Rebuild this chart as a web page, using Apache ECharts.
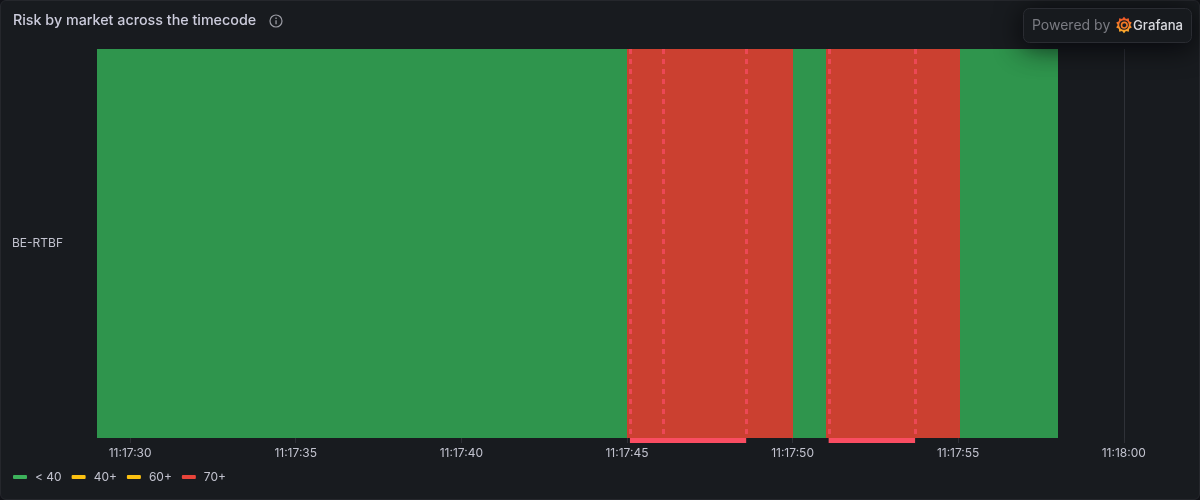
<!DOCTYPE html>
<html><head><meta charset="utf-8">
<style>
html,body{margin:0;padding:0;width:1200px;height:500px;overflow:hidden;background:#111217}
#panel{position:absolute;left:0;top:0;width:1198px;height:498px;background:#181b1f;border:1px solid #25272c;border-radius:6px}
#chart{position:absolute;left:0;top:0;width:1200px;height:500px}
</style>
<script src="https://cdn.jsdelivr.net/npm/echarts@6/dist/echarts.min.js"></script>
</head><body><div id="panel"></div><div id="chart"></div>
<script>
const titleText = 'Risk by market across the timecode';
const markets = ['BE-RTBF'];
const stateNames = ['< 40', '40+', '60+', '70+'];
const legendColors = ['#3cb25b', '#fbc111', '#fbc111', '#e8443a'];
const fillColors = ['#2f954d', '#e0ad12', '#e0ad12', '#cb4030'];
const segmentStarts = ['11:17:29', '11:17:45', '11:17:50', '11:17:51', '11:17:55.05'];
const segmentEnds   = ['11:17:45', '11:17:50', '11:17:51', '11:17:55.05', '11:17:58'];
const segmentStates = [0, 3, 0, 3, 0];
const regionStarts = ['11:17:45.09', '11:17:51.09'];
const regionEnds   = ['11:17:48.6', '11:17:53.7'];
const pointNotes   = ['11:17:46.1'];
const tickTimes = ['11:17:30', '11:17:35', '11:17:40', '11:17:45', '11:17:50', '11:17:55', '11:18:00'];
const axisMin = '11:17:29';
const axisMax = '11:18:02';

const FONT = 'Inter, "Noto Sans", sans-serif';
const ms = s => new Date('2024-01-01T' + s).getTime();
const tickValues = tickTimes.map(ms);

const stateSeries = stateNames.map((name, st) => ({
  name, type: 'custom', z: 2,
  itemStyle: { color: legendColors[st] },
  encode: { x: [0, 1], y: 2 },
  data: segmentStates.map((v, i) => v === st ? [ms(segmentStarts[i]), ms(segmentEnds[i]), 0] : null).filter(Boolean),
  renderItem(params, api) {
    const a = api.coord([api.value(0), api.value(2)]);
    const b = api.coord([api.value(1), api.value(2)]);
    const h = api.size([0, 1])[1];
    const x0 = Math.round(a[0]), x1 = Math.round(b[0]);
    return { type: 'rect', shape: { x: x0, y: a[1] - h / 2, width: x1 - x0, height: h }, style: { fill: fillColors[st] } };
  }
}));

const noteColor = '#f2495c';
const noteTimes = [...regionStarts, ...regionEnds, ...pointNotes];
const noteLines = {
  type: 'custom', z: 5, silent: true, clip: false, encode: { x: 0 },
  data: noteTimes.map(t => [ms(t)]),
  renderItem(params, api) {
    const x = Math.round(api.coord([api.value(0), 0])[0]) + 0.5;
    const g = params.coordSys;
    return { type: 'line', shape: { x1: x, y1: g.y, x2: x, y2: g.y + g.height },
      style: { stroke: noteColor, lineWidth: 3, lineDash: [5, 5], opacity: 0.85 } };
  }
};
const noteBars = {
  type: 'custom', z: 6, silent: true, clip: false, encode: { x: [0, 1] },
  data: regionStarts.map((t, i) => [ms(t), ms(regionEnds[i])]),
  renderItem(params, api) {
    const a = api.coord([api.value(0), 0])[0];
    const b = api.coord([api.value(1), 0])[0];
    const g = params.coordSys;
    return { type: 'rect', shape: { x: a, y: g.y + g.height, width: b - a, height: 5 },
      style: { fill: '#fa4d62' } };
  }
};

function star(cx, cy, r1, r2, n) {
  const p = [];
  for (let i = 0; i < n * 2; i++) {
    const r = i % 2 ? r2 : r1, t = Math.PI * i / n;
    p.push([cx + r * Math.sin(t), cy - r * Math.cos(t)]);
  }
  return p;
}

const chart = echarts.init(document.getElementById('chart'), null, { renderer: 'canvas' });
chart.setOption({
  animation: false,
  backgroundColor: 'transparent',
  textStyle: { fontFamily: FONT },
  title: { text: titleText, left: 13, top: 14, padding: 0,
    textStyle: { color: '#ccccdc', fontSize: 14.3, fontWeight: 500, fontFamily: FONT } },
  grid: { left: 97, right: 10, top: 49, bottom: 62 },
  legend: {
    left: 13, top: 471, padding: 0, itemWidth: 14, itemHeight: 4, itemGap: 10,
    icon: 'roundRect', data: stateNames, selectedMode: false,
    textStyle: { color: '#c2c3cf', fontSize: 12, fontFamily: FONT, padding: [0, 0, 0, 3] }
  },
  xAxis: {
    type: 'time', min: ms(axisMin), max: ms(axisMax),
    axisLine: { show: false },
    axisTick: { show: true, length: 5, customValues: tickValues, lineStyle: { color: 'rgba(204,204,220,0.12)' } },
    splitLine: { show: true, lineStyle: { color: 'rgba(204,204,220,0.07)', width: 1 } },
    axisLabel: { color: '#c2c3cf', fontSize: 12, fontFamily: FONT, margin: 9, hideOverlap: false,
      customValues: tickValues, showMinLabel: true, showMaxLabel: true, formatter: '{HH}:{mm}:{ss}' }
  },
  yAxis: {
    type: 'category', data: markets,
    axisLine: { show: false }, axisTick: { show: false }, splitLine: { show: false },
    axisLabel: { color: '#c2c3cf', fontSize: 12, fontFamily: FONT, align: 'left', margin: 85, padding: [4, 0, 0, 0] }
  },
  series: [...stateSeries, noteLines, noteBars],
  graphic: [
    { type: 'circle', shape: { cx: 276, cy: 21, r: 6 }, style: { fill: 'none', stroke: '#9a9ba3', lineWidth: 1.2 }, z: 20 },
    { type: 'rect', shape: { x: 275.4, y: 20.2, width: 1.3, height: 4 }, style: { fill: '#9a9ba3' }, z: 20 },
    { type: 'rect', shape: { x: 275.4, y: 17.6, width: 1.3, height: 1.3 }, style: { fill: '#9a9ba3' }, z: 20 },
    { type: 'rect', z: 30, shape: { x: 1023.5, y: 8.5, width: 168, height: 34, r: 6 },
      style: { fill: '#181b1f', stroke: '#2a2c32', lineWidth: 1, shadowBlur: 28, shadowColor: 'rgba(1,4,9,0.8)', shadowOffsetY: 4 } },
    { type: 'text', z: 31, x: 1032, y: 26,
      style: { text: 'Powered by', fill: '#7a7b82', font: '14px ' + FONT, textVerticalAlign: 'middle' } },
    { type: 'polygon', z: 31, shape: { points: star(1124, 25, 8.2, 6.3, 10) },
      style: { fill: new echarts.graphic.LinearGradient(0, 1, 0, 0, [{ offset: 0, color: '#fcb22c' }, { offset: 1, color: '#ee4f27' }]) } },
    { type: 'circle', z: 32, shape: { cx: 1124, cy: 25, r: 4.8 }, style: { fill: '#181b1f' } },
    { type: 'circle', z: 33, shape: { cx: 1124.3, cy: 25.2, r: 2.8 }, style: { fill: 'none', stroke: '#f47a26', lineWidth: 1.6 } },
    { type: 'text', z: 31, x: 1133, y: 26,
      style: { text: 'Grafana', fill: '#d8d9de', font: '500 13.2px ' + FONT, textVerticalAlign: 'middle' } }
  ]
});
</script></body></html>
